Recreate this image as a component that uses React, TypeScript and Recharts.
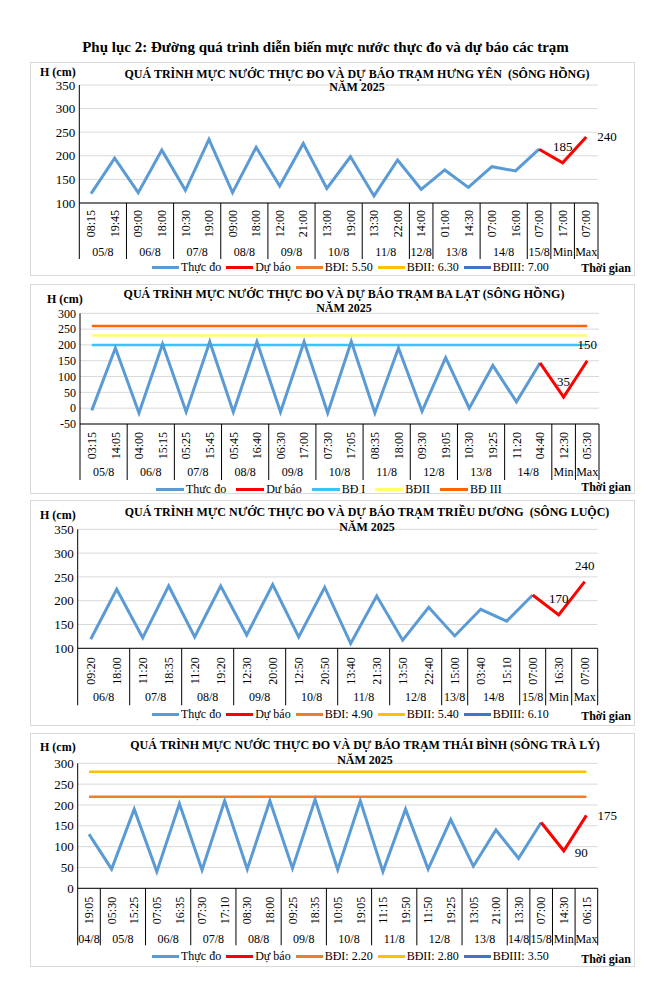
import React from "react";
import { LineChart, Line, XAxis, YAxis, CartesianGrid, LabelList } from "recharts";

const FONT = '"Liberation Serif", "Times New Roman", serif';

// ---------- Hưng Yên ----------
const HY_TIMES = ["08:15","19:45","09:00","18:00","10:30","19:00","09:00","18:00","12:00","21:00","13:00","19:00","13:30","22:00","14:00","01:00","14:30","07:00","16:00","07:00","17:00","07:00"];
const HY_GROUPS: [string, number][] = [["05/8",2],["06/8",2],["07/8",2],["08/8",2],["09/8",2],["10/8",2],["11/8",2],["12/8",1],["13/8",2],["14/8",2],["15/8",1],["Min",1],["Max",1]];
const HY_OBS = [120,195,122,212,127,235,122,218,136,226,131,198,115,191,129,170,133,177,168,214,null,null];
const HY_FC = [null,null,null,null,null,null,null,null,null,null,null,null,null,null,null,null,null,null,null,214,185,240];
const HY_Y_TICKS = [100,150,200,250,300,350];
const HY_LEGEND = ["Thực đo","Dự báo","BĐI: 5.50","BĐII: 6.30","BĐIII: 7.00"];

// ---------- Ba Lạt ----------
const BL_TIMES = ["03:15","14:05","04:00","15:15","05:25","15:45","05:45","16:40","06:30","17:00","07:30","17:05","08:35","18:00","09:30","19:05","10:30","19:25","11:20","04:40","12:30","05:30"];
const BL_GROUPS: [string, number][] = [["05/8",2],["06/8",2],["07/8",2],["08/8",2],["09/8",2],["10/8",2],["11/8",2],["12/8",2],["13/8",2],["14/8",2],["Min",1],["Max",1]];
const BL_OBS = [-7,190,-15,203,-12,210,-12,210,-12,210,-15,211,-15,190,-10,160,0,135,20,143,null,null];
const BL_FC = [null,null,null,null,null,null,null,null,null,null,null,null,null,null,null,null,null,null,null,143,35,150];
const BL_BD1 = 200;
const BL_BD2 = 230;
const BL_BD3 = 260;
const BL_Y_TICKS = [-50,0,50,100,150,200,250,300];
const BL_LEGEND = ["Thưc đo","Dư báo","BĐ I","BĐII","BĐ III"];

// ---------- Triều Dương ----------
const TD_TIMES = ["09:20","18:00","11:20","18:35","11:20","19:20","12:30","20:00","12:50","20:50","13:40","21:30","13:50","22:40","15:00","03:40","15:10","07:00","16:30","07:00"];
const TD_GROUPS: [string, number][] = [["06/8",2],["07/8",2],["08/8",2],["09/8",2],["10/8",2],["11/8",2],["12/8",2],["13/8",1],["14/8",2],["15/8",1],["Min",1],["Max",1]];
const TD_OBS = [119,224,122,231,124,231,128,234,124,228,110,210,117,186,126,182,157,212,null,null];
const TD_FC = [null,null,null,null,null,null,null,null,null,null,null,null,null,null,null,null,null,212,170,240];
const TD_Y_TICKS = [100,150,200,250,300,350];
const TD_LEGEND = ["Thực đo","Dự báo","BĐI: 4.90","BĐII: 5.40","BĐIII: 6.10"];

// ---------- Thái Bình ----------
const TB_TIMES = ["19:05","05:30","15:25","07:05","16:35","07:30","17:10","08:30","18:00","09:25","18:35","10:05","19:05","11:15","19:50","11:50","19:25","13:05","21:00","13:30","07:00","14:30","06:15"];
const TB_GROUPS: [string, number][] = [["04/8",1],["05/8",2],["06/8",2],["07/8",2],["08/8",2],["09/8",2],["10/8",2],["11/8",2],["12/8",2],["13/8",2],["14/8",1],["15/8",1],["Min",1],["Max",1]];
const TB_OBS = [130,46,190,40,203,44,210,46,210,48,213,45,210,40,190,46,165,53,140,72,158,null,null];
const TB_FC = [null,null,null,null,null,null,null,null,null,null,null,null,null,null,null,null,null,null,null,null,158,90,175];
const TB_BD1 = 220;
const TB_BD2 = 280;
const TB_Y_TICKS = [0,50,100,150,200,250,300];
const TB_LEGEND = ["Thực đo","Dự báo","BĐI: 2.20","BĐII: 2.80","BĐIII: 3.50"];

const C_OBS = "#5B9BD5";
const C_FC = "#FF0000";
const STD_COLORS = [C_OBS, C_FC, "#ED7D31", "#FFC000", "#4472C4"];
const BL_COLORS = [C_OBS, C_FC, "#3CC3F5", "#FFFF66", "#FF6600"];

type Thr = { key: string; value: number; color: string };

type PanelProps = {
  top: number;
  height: number;
  title: string;
  times: string[];
  groups: [string, number][];
  obs: (number | null)[];
  fc: (number | null)[];
  thresholds: Thr[];
  yTicks: number[];
  legend: string[];
  legendColors: string[];
  plot: { top: number; bottom: number; left: number; right: number };
  tickCfg: { timeTop: number; groupY: number; sepLen: number };
  yFont: number;
  labelPos: [string, string];
  txt: { cx: number; y1: number; y2: number; hX: number; hY: number; tgY: number; lgX: number; lgY: number; lgGap: number; lgLine: number };
};

const W = 605;

function Panel(p: PanelProps) {
  const n = p.times.length;
  const plotW = W - p.plot.left - p.plot.right;
  const bw = plotW / n;
  const rows = p.times.map((t, i) => {
    const r: any = { i, t, obs: p.obs[i], fc: p.fc[i] };
    p.thresholds.forEach((th) => (r[th.key] = th.value));
    return r;
  });
  const starts: Record<number, { label: string; span: number }> = {};
  let k = 0;
  p.groups.forEach(([label, span]) => {
    starts[k] = { label, span };
    k += span;
  });
  const tc = p.tickCfg;
  const Tick = (props: any) => {
    const { x, y, payload } = props;
    const idx = Number(payload.value);
    const g = starts[idx];
    const ty = y + tc.timeTop;
    return (
      <g>
        <text x={x} y={ty} transform={`rotate(-90 ${x} ${ty})`} textAnchor="end" dy="0.35em" fontSize={12} fontFamily={FONT} fill="#000">
          {p.times[idx]}
        </text>
        {g && (
          <>
            <line x1={x - bw / 2} x2={x - bw / 2} y1={y} y2={y + tc.sepLen} stroke="#000" strokeWidth={1} />
            <text x={x + ((g.span - 1) * bw) / 2} y={y + tc.groupY} textAnchor="middle" dominantBaseline="central" fontSize={12} fontFamily={FONT} fill="#000">
              {g.label}
            </text>
          </>
        )}
        {idx === n - 1 && <line x1={x + bw / 2} x2={x + bw / 2} y1={y} y2={y + tc.sepLen} stroke="#000" strokeWidth={1} />}
      </g>
    );
  };
  const Lbl = (props: any) => {
    const { x, y, value, index } = props;
    if (value == null || index < n - 2) return null;
    const pos = p.labelPos[index - (n - 2)];
    let lx = x, ly = y, anchor: any = "middle";
    if (pos === "top") { ly = y - 16; }
    else if (pos === "right") { lx = x + 11; anchor = "start"; }
    else if (pos === "rightDown") { lx = x + 11; ly = y + 2; anchor = "start"; }
    return (
      <text x={lx} y={ly} textAnchor={anchor} dominantBaseline="central" fontSize={13} fontFamily={FONT} fill="#000">
        {value}
      </text>
    );
  };
  const t = p.txt;
  return (
    <div style={{ position: "absolute", left: 30, top: p.top, width: W, height: p.height }}>
      <div style={{ position: "absolute", left: 0, top: 0, width: W, height: p.height, border: "1px solid #D9D9D9", boxSizing: "border-box" }} />
      <div style={{ position: "absolute", left: 0, top: 0 }}>
        <LineChart width={W} height={p.height} data={rows} margin={{ top: p.plot.top, right: p.plot.right, left: 0, bottom: 0 }}>
          <CartesianGrid horizontal vertical={false} stroke="#D9D9D9" />
          <XAxis
            dataKey="i"
            type="category"
            scale="point"
            padding={{ left: bw / 2, right: bw / 2 }}
            interval={0}
            height={p.height - p.plot.bottom}
            axisLine={{ stroke: "#000" }}
            tickLine={false}
            tickSize={0}
            tickMargin={0}
            tick={<Tick />}
          />
          <YAxis
            type="number"
            domain={[p.yTicks[0], p.yTicks[p.yTicks.length - 1]]}
            ticks={p.yTicks}
            interval={0}
            allowDataOverflow
            width={p.plot.left}
            axisLine={{ stroke: "#000" }}
            tickLine={false}
            tickSize={0}
            tickMargin={4}
            tick={{ fontSize: p.yFont, fill: "#000", fontFamily: FONT }}
          />
          {p.thresholds.map((th) => (
            <Line key={th.key} dataKey={th.key} stroke={th.color} strokeWidth={2.5} dot={false} isAnimationActive={false} />
          ))}
          <Line dataKey="obs" stroke={C_OBS} strokeWidth={3} dot={false} isAnimationActive={false} />
          <Line dataKey="fc" stroke={C_FC} strokeWidth={3} dot={false} isAnimationActive={false}>
            <LabelList dataKey="fc" content={<Lbl />} />
          </Line>
        </LineChart>
      </div>
      <svg width={W} height={p.height} style={{ position: "absolute", left: 0, top: 0, pointerEvents: "none" }}>
        <text x={t.cx} y={t.y1} textAnchor="middle" dominantBaseline="central" fontSize={12} fontWeight="bold" fontFamily={FONT} style={{ whiteSpace: "pre" }}>
          {p.title}
        </text>
        <text x={t.cx} y={t.y2} textAnchor="middle" dominantBaseline="central" fontSize={12} fontWeight="bold" fontFamily={FONT}>
          NĂM 2025
        </text>
        <text x={t.hX} y={t.hY} dominantBaseline="central" fontSize={12} fontWeight="bold" fontFamily={FONT}>
          H (cm)
        </text>
        <text x={576} y={t.tgY} textAnchor="middle" dominantBaseline="central" fontSize={12} fontWeight="bold" fontFamily={FONT}>
          Thời gian
        </text>
      </svg>
      <div style={{ position: "absolute", left: t.lgX, top: t.lgY - 8, height: 16, display: "flex", alignItems: "center", fontFamily: FONT, fontSize: 12, whiteSpace: "nowrap", color: "#000" }}>
        {p.legend.map((l, i) => (
          <div key={i} style={{ display: "flex", alignItems: "center", marginRight: t.lgGap }}>
            <span style={{ display: "inline-block", width: t.lgLine, height: 3, background: p.legendColors[i], marginRight: 2 }} />
            <span>{l}</span>
          </div>
        ))}
      </div>
    </div>
  );
}

export default function App() {
  return (
    <div style={{ position: "absolute", left: 0, top: 0, width: 671, height: 992, background: "#fff", fontFamily: FONT }}>
      <div style={{ position: "absolute", left: 0, top: 38, width: 651, textAlign: "center", fontSize: 15, fontWeight: "bold", lineHeight: "18px" }}>
        Phụ lục 2: Đường quá trình diễn biến mực nước thực đo và dự báo các trạm
      </div>
      <Panel
        top={62}
        height={214}
        title="QUÁ TRÌNH MỰC NƯỚC THỰC ĐO VÀ DỰ BÁO TRẠM HƯNG YÊN  (SÔNG HỒNG)"
        times={HY_TIMES}
        groups={HY_GROUPS}
        obs={HY_OBS}
        fc={HY_FC}
        thresholds={[]}
        yTicks={HY_Y_TICKS}
        legend={HY_LEGEND}
        legendColors={STD_COLORS}
        plot={{ top: 23, bottom: 141, left: 49.3, right: 37 }}
        tickCfg={{ timeTop: 7, groupY: 49, sepLen: 56 }}
        yFont={13}
        labelPos={["top", "right"]}
        txt={{ cx: 327, y1: 12, y2: 25, hX: 10, hY: 10, tgY: 206, lgX: 122, lgY: 205, lgGap: 5, lgLine: 27 }}
      />
      <Panel
        top={284}
        height={210}
        title="QUÁ TRÌNH MỰC NƯỚC THỰC ĐO VÀ DỰ BÁO TRẠM BA LẠT (SÔNG HỒNG)"
        times={BL_TIMES}
        groups={BL_GROUPS}
        obs={BL_OBS}
        fc={BL_FC}
        thresholds={[
          { key: "bd1", value: BL_BD1, color: BL_COLORS[2] },
          { key: "bd2", value: BL_BD2, color: BL_COLORS[3] },
          { key: "bd3", value: BL_BD3, color: BL_COLORS[4] },
        ]}
        yTicks={BL_Y_TICKS}
        legend={BL_LEGEND}
        legendColors={BL_COLORS}
        plot={{ top: 29.3, bottom: 140, left: 50, right: 36 }}
        tickCfg={{ timeTop: 8, groupY: 48, sepLen: 56 }}
        yFont={12}
        labelPos={["top", "top"]}
        txt={{ cx: 314, y1: 10, y2: 24, hX: 17, hY: 15, tgY: 203, lgX: 126, lgY: 205, lgGap: 10, lgLine: 28 }}
      />
      <Panel
        top={500}
        height={226}
        title="QUÁ TRÌNH MỰC NƯỚC THỰC ĐO VÀ DỰ BÁO TRẠM TRIỀU DƯƠNG  (SÔNG LUỘC)"
        times={TD_TIMES}
        groups={TD_GROUPS}
        obs={TD_OBS}
        fc={TD_FC}
        thresholds={[]}
        yTicks={TD_Y_TICKS}
        legend={TD_LEGEND}
        legendColors={STD_COLORS}
        plot={{ top: 29.3, bottom: 148.3, left: 47.7, right: 37.3 }}
        tickCfg={{ timeTop: 9, groupY: 49, sepLen: 57 }}
        yFont={13}
        labelPos={["top", "top"]}
        txt={{ cx: 337, y1: 11.7, y2: 27, hX: 10, hY: 15, tgY: 215.7, lgX: 122, lgY: 214, lgGap: 5, lgLine: 27 }}
      />
      <Panel
        top={733}
        height={234}
        title="QUÁ TRÌNH MỰC NƯỚC THỰC ĐO VÀ DỰ BÁO TRẠM THÁI BÌNH (SÔNG TRÀ LÝ)"
        times={TB_TIMES}
        groups={TB_GROUPS}
        obs={TB_OBS}
        fc={TB_FC}
        thresholds={[
          { key: "bd1", value: TB_BD1, color: STD_COLORS[2] },
          { key: "bd2", value: TB_BD2, color: STD_COLORS[3] },
        ]}
        yTicks={TB_Y_TICKS}
        legend={TB_LEGEND}
        legendColors={STD_COLORS}
        plot={{ top: 30.3, bottom: 155.3, left: 47.7, right: 37.3 }}
        tickCfg={{ timeTop: 8.5, groupY: 51, sepLen: 57 }}
        yFont={13}
        labelPos={["rightDown", "right"]}
        txt={{ cx: 335, y1: 12, y2: 27, hX: 10, hY: 13.7, tgY: 226, lgX: 122, lgY: 223.7, lgGap: 5, lgLine: 27 }}
      />
    </div>
  );
}
